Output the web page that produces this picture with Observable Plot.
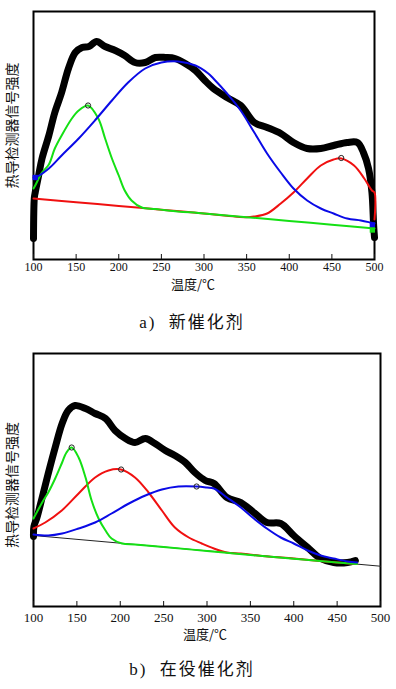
<!DOCTYPE html>
<html><head><meta charset="utf-8">
<script src="https://cdn.jsdelivr.net/npm/d3@7"></script>
<script src="https://cdn.jsdelivr.net/npm/@observablehq/plot@0.6"></script>
<style>
body{margin:0;background:#fff;}
#wrap{position:relative;width:396px;height:689px;overflow:hidden;background:#fff;}
.panel{position:absolute;left:0;}
.cap{position:absolute;left:0;width:384px;text-align:center;font-size:17px;line-height:20px;font-family:"Liberation Serif","Noto Sans CJK SC",serif;letter-spacing:2px;color:#111;}
</style></head><body>
<div id="wrap">
  <div id="pa" class="panel" style="top:0px"></div>
  <div class="cap" style="top:313px">a)&nbsp; 新催化剂</div>
  <div id="pb" class="panel" style="top:342px"></div>
  <div class="cap" style="top:660px">b)&nbsp; 在役催化剂</div>
</div>
<script>
// ---------- shared text ----------
const xTicks = [100,150,200,250,300,350,400,450,500];
const xLabel = "温度/℃";
const yLabel = "热导检测器信号强度";

// ---------- panel a: 新催化剂 ----------
const sigA_T = [100,101,102,106,110,118,125,133,141,149,157,165,174,184,196,207,219,231,243,255,266,278,290,301,311,327,343,359,374,390,405,421,437,452,468,480,487,493,497,499,500];
const sigA_v = [21,62,67,84,101,124,147,167,191,207,212,213,218,213,209,204,197,197,202,202,201,196,189,179,171,162,154,137,132,126,117,111,111,114,117,117,107,91,67,34,22];

const redA_T = [100,150,200,250,300,350,359,374,390,405,421,437,452,461,476,488,497,500,500];
const redA_v = [61,57.3,53.5,49.8,46,42.3,43,46,56,67,81,94,100,101,94,81,69,67,40];

const greenA_T = [100,102,110,118,125,133,145,153,164,176,184,192,200,207,215,227,243,260,300,350,400,450,500];
const greenA_v = [71,74,87,95,111,124,141,149,154,141,121,101,84,69,59,52,50.5,48.8,46,42.3,38.5,34.8,31];

const blueA_T = [100,102,118,133,153,172,192,211,231,250,270,290,305,311,327,343,359,374,390,405,421,437,452,468,484,495,500];
const blueA_v = [82,82,91,104,121,139,159,177,191,197,198,194,186,181,166,149,127,106,87,71,59,51,46,41,39,37,36];

const peaksA_T = [164,461];
const peaksA_v = [154,101.5];

// small end-point squares of the fitted curves (panel a)
const endA_T = [102,497.5,497.5];
const endA_v = [82,34.5,29.5];
const endA_c = ["blue","blue","green"];

// ---------- panel b: 在役催化剂 ----------
const sigB_T = [100,100.5,104,110,117,125,133,140,148,160,171,183,194,206,217,229,240,252,263,275,286,298,308,323,339,354,369,385,400,416,431,446,462,471];
const sigB_v = [70,80,89,109,133,159,183,196,201,198,193,188,176,168,164,168,163,156,151,144,134,126,123,109,104,94,84,83,71,59,48,44,44,46];

const baseB_T = [100,500];
const baseB_v = [71,40.3];

const redB_T = [100,113.5,132.6,152,171,186.5,200.7,217,232.6,248,263,279,294,308,323,339,370,400,450,473];
const redB_v = [78,84,96,113,129,136,137,129,114,96,79,69,63,58,54,53,50,48,44,42.5];

const greenB_T = [100,110,117,125,133,138,144,152,160,167,175,183,190,202,217,250,300,350,400,450,473];
const greenB_v = [88,104,114,128,144,154,159,149,129,106,88,76,68,63,62,59.5,55.5,51.5,47.8,44,42.5];

const blueB_T = [100,117,133,152,171,190,210,229,248,267,288,300,308,323,339,354,369,385,400,416,431,446,462,473];
const blueB_v = [72,71,73,78,84,93,103,111,117,120,120,119,118,109,99,88,78,69,63,56,51,48,45,44];

const peaksB_T = [144,201,288];
const peaksB_v = [159,137,120];

// ---------- helpers ----------
const zip = (T, v) => T.map((t, i) => ({T: t, v: v[i]}));
const GREEN = "#14e014", BLUE = "#0a0ae6", RED = "#f01010";
const colorOf = {blue: BLUE, green: GREEN, red: RED};

function panel({sig, red, green, blue, base, peaks, ends, tickFont, tickPad, labelDx, labelDy, yLabelDy, sigWidth}) {
  const marks = [
    Plot.frame({stroke: "#000", strokeWidth: 2}),
    Plot.axisX({ticks: xTicks, tickSize: -5, tickPadding: tickPad, tickFormat: d => String(d),
      fontSize: tickFont, fontFamily: "Liberation Serif", label: null}),
    Plot.text([xLabel], {frameAnchor: "bottom", dx: labelDx, dy: labelDy, fontSize: 13, fontFamily: "Noto Sans CJK SC", fill: "#111"}),
    Plot.text([yLabel], {frameAnchor: "left", textAnchor: "middle", dx: -21, dy: yLabelDy, rotate: -90, fontSize: 14, fontFamily: "Noto Sans CJK SC", fill: "#111"}),
  ];
  if (base) marks.push(Plot.line(base, {x: "T", y: "v", stroke: "#222", strokeWidth: 1}));
  marks.push(Plot.line(sig, {x: "T", y: "v", stroke: "#000", strokeWidth: sigWidth, strokeLinejoin: "round", curve: "catmull-rom"}));
  marks.push(Plot.line(red, {x: "T", y: "v", stroke: RED, strokeWidth: 2, curve: "catmull-rom"}));
  marks.push(Plot.line(green, {x: "T", y: "v", stroke: GREEN, strokeWidth: 2, curve: "catmull-rom"}));
  marks.push(Plot.line(blue, {x: "T", y: "v", stroke: BLUE, strokeWidth: 2, curve: "catmull-rom"}));
  if (ends) marks.push(Plot.dot(ends, {x: "T", y: "v", symbol: "square", r: 3, fill: d => colorOf[d.c], stroke: null}));
  marks.push(Plot.dot(peaks, {x: "T", y: "v", r: 2.6, stroke: "#222", fill: "none", strokeWidth: 1}));
  return marks;
}

const plotA = Plot.plot({
  width: 396, height: 300,
  marginLeft: 33, marginRight: 22, marginTop: 11, marginBottom: 41,
  x: {domain: [100, 500], axis: null},
  y: {domain: [0, 248], axis: null},
  style: {background: "transparent", color: "#111"},
  marks: panel({sig: zip(sigA_T, sigA_v), red: zip(redA_T, redA_v), green: zip(greenA_T, greenA_v), blue: zip(blueA_T, blueA_v),
    base: null, peaks: zip(peaksA_T, peaksA_v), ends: endA_T.map((t, i) => ({T: t, v: endA_v[i], c: endA_c[i]})),
    tickFont: 12, tickPad: 8, labelDx: -11, labelDy: 29, yLabelDy: -10, sigWidth: 7})
});
document.getElementById("pa").appendChild(plotA);

const plotB = Plot.plot({
  width: 396, height: 305,
  marginLeft: 33, marginRight: 16, marginTop: 11, marginBottom: 41,
  x: {domain: [100, 500], axis: null},
  y: {domain: [0, 253], axis: null},
  style: {background: "transparent", color: "#111"},
  marks: panel({sig: zip(sigB_T, sigB_v), red: zip(redB_T, redB_v), green: zip(greenB_T, greenB_v), blue: zip(blueB_T, blueB_v),
    base: zip(baseB_T, baseB_v), peaks: zip(peaksB_T, peaksB_v), ends: null,
    tickFont: 13, tickPad: 11, labelDx: -2, labelDy: 32, yLabelDy: 5, sigWidth: 7})
});
document.getElementById("pb").appendChild(plotB);
</script>
</body></html>
